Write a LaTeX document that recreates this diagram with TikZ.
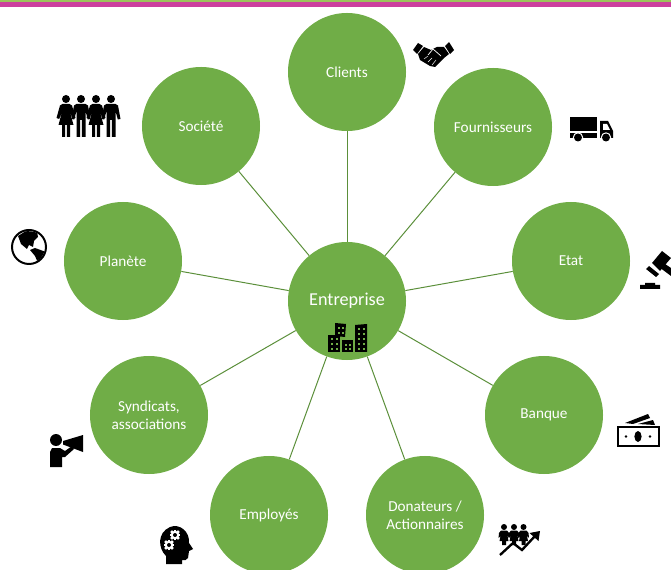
\documentclass[tikz,border=0pt]{standalone}
\usepackage{fontspec}
\setmainfont{Carlito}
\definecolor{leaf}{HTML}{70AD47}
\definecolor{linkgreen}{HTML}{5B8F3A}
\definecolor{barpink}{HTML}{CC3F9E}
\definecolor{barlime}{HTML}{9BC45C}
\tikzset{
  stake/.style={circle,fill=leaf,text=white,minimum size=3.54cm,inner sep=0pt,align=center,font=\fontsize{13}{15.3}\selectfont},
  link/.style={linkgreen,line width=0.85pt},
  woman/.pic={
    \fill (0,0) circle (4);
    \fill (-3.5,5) -- (3.5,5) -- (6,6.5) -- (9.5,19) -- (6.8,20) -- (4,13) -- (7.5,26) -- (4,26) -- (4,38) -- (0.8,38) -- (0.8,26) -- (-0.8,26) -- (-0.8,38) -- (-4,38) -- (-4,26) -- (-7.5,26) -- (-4,13) -- (-6.8,20) -- (-9.5,19) -- (-6,6.5) -- cycle;
  },
  man/.pic={
    \fill (0,0) circle (4);
    \fill (-4.5,5) -- (4.5,5) -- (7,6.5) -- (9.5,20) -- (6.8,20.5) -- (4.5,12) -- (4.5,38) -- (0.8,38) -- (0.8,21) -- (-0.8,21) -- (-0.8,38) -- (-4.5,38) -- (-4.5,12) -- (-6.8,20.5) -- (-9.5,20) -- (-7,6.5) -- cycle;
  },
  member/.pic={
    \fill (0,0) circle (3);
    \fill (-3,3.5) -- (3,3.5) -- (5,6) -- (5.5,11) -- (3.5,9) -- (4.5,14) -- (2,14) -- (2,18) -- (-2,18) -- (-2,14) -- (-4.5,14) -- (-3.5,9) -- (-5.5,11) -- (-5,6) -- cycle;
  },
  cog/.pic={
    \foreach \a in {0,45,...,315}
      \fill [white,rotate=\a] (-1.2,-5.4) rectangle (1.2,5.4);
    \fill [white] (0,0) circle (4.3);
    \fill (0,0) circle (2);
  },
}
\begin{document}
\begin{tikzpicture}[x=0.03cm,y=-0.03cm]
\useasboundingbox (0,0) rectangle (671,570);
\fill [barlime] (0,0) rectangle (671,2.5);
\fill [barpink] (0,2.5) rectangle (671,7);

\node [stake,font=\fontsize{15.5}{18}\selectfont] (entreprise) at (347,301) {Entreprise};
\node [stake] (clients) at (347,72) {Clients};
\node [stake] (fournisseurs) at (493,127) {Fournisseurs};
\node [stake] (etat) at (571,261) {Etat};
\node [stake] (banque) at (544,415) {Banque};
\node [stake] (donateurs) at (425,515) {Donateurs /\\Actionnaires};
\node [stake] (employes) at (269,515) {Employés};
\node [stake] (syndicats) at (149,415) {Syndicats,\\associations};
\node [stake] (planete) at (123,261) {Planète};
\node [stake] (societe) at (201,126) {Société};

\foreach \other in {clients,fournisseurs,etat,banque,donateurs,employes,syndicats,planete,societe}
  \draw [link] (entreprise) -- (\other);

% poignee de main
\fill (413,50) -- (418,43) -- (423,46) -- (417,54) -- cycle;
\fill (445,46) -- (449,42) -- (454,50) -- (450,54) -- cycle;
\fill (424,47) -- (431,50) -- (437,47) -- (444,47) -- (449,54) -- (444,58) -- (435,67) -- (430,66) -- (420,60) -- (418,54) -- cycle;
\draw [white,line width=0.6pt] (428,55) -- (433,49) -- (441,56);
\draw [white,line width=0.4pt] (424,59) -- (428,56) (428,62) -- (432,58) (432,65) -- (436,60);

% camion
\fill (570,117) rectangle (597,131);
\fill (570,133) rectangle (597,138);
\fill (600,121) -- (608,121) -- (613,131) -- (613,138) -- (600,138) -- cycle;
\fill [white] (603,124) -- (607,124) -- (610,130) -- (603,130) -- cycle;
\foreach \wheel in {578,606} {
  \fill [white] (\wheel,137.5) circle (5.2);
  \fill (\wheel,137.5) circle (4);
}

% societe
\pic at (66,99) {woman};
\pic at (81,99) {man};
\pic at (96,99) {woman};
\pic at (111,99) {man};

% globe
\draw [line width=1.7pt] (29,247) circle (17);
\begin{scope}
\clip (29,247) circle (16);
\fill (18,236) -- (26,231) -- (37,232) -- (38,237) -- (34,241) -- (33,247) -- (29,245) -- (27,249) -- (21,244) -- cycle;
\fill (30,250) -- (35,248) -- (46,252) -- (44,262) -- (38,263) -- (35,256) -- cycle;
\end{scope}

% marteau
\fill (640,285) -- (645,285) -- (645,283) -- (655,283) -- (655,285) -- (660,285) -- (660,289) -- (640,289) -- cycle;
\fill (652,263) -- (662,251) -- (671,258) -- (660,271) -- cycle;
\fill (646,269) -- (649,266) -- (659,274) -- (656,277) -- cycle;
\fill (662,262) -- (671,268) -- (671,276) -- (659,267) -- cycle;

% billets
\draw [line width=1.7pt] (618,427) rectangle (659,446);
\fill (638,436.5) ellipse (3.6 and 5.5);
\fill (626,436.5) circle (1.3);
\fill (650,436.5) circle (1.3);
\fill (625,423) -- (648,414) -- (650,418) -- (633,424) -- cycle;
\fill (638,424) -- (653,420) -- (655,425) -- cycle;

% porte-voix
\fill (56,440) circle (6);
\fill (50,452) -- (52,448) -- (60,448) -- (65,451) -- (72,446) -- (74,449) -- (65,457) -- (62,457) -- (62,467) -- (50,467) -- cycle;
\fill (63,441) -- (83,435) -- (83,452) -- (63,444.5) -- cycle;

% tete
\fill (166,564) -- (166,556) .. controls (158,548) and (157,533) .. (170,527) .. controls (180,523) and (190,532) .. (189,543) -- (193,549) -- (189,551) -- (188,558) .. controls (187,561) and (184,560) .. (182,560) -- (182,564) -- cycle;
\pic at (175,535) {cog};
\pic at (169,545) {cog};

% equipe
\foreach \head in {504,514,523.5}
  \pic at (\head,527) {member};
\draw [line width=2pt] (500,555) -- (513,543) -- (522,550) -- (535,536);
\fill (540,531) -- (538.5,541) -- (529.5,533) -- cycle;

% immeubles
\fill (328,335) rectangle (340,352);
\fill (342,340) rectangle (353,352);
\fill (355,325) -- (367,324) -- (367,352) -- (355,352) -- cycle;
\fill (335,323) -- (346,324) -- (345,337) -- (335,336) -- cycle;
\foreach \col in {331,335.5} \foreach \row in {338,343,348}
  \fill [leaf] (\col,\row) rectangle +(2.2,2.4);
\foreach \col in {345,349} \foreach \row in {344,348}
  \fill [leaf] (\col,\row) rectangle +(2,2.2);
\foreach \col in {358,362.5} \foreach \row in {328,333,338,343,348}
  \fill [leaf] (\col,\row) rectangle +(2.2,2.2);
\foreach \col in {338,342} \foreach \row in {327,332}
  \fill [leaf] (\col,\row) rectangle +(2.2,2.2);
\end{tikzpicture}
\end{document}
